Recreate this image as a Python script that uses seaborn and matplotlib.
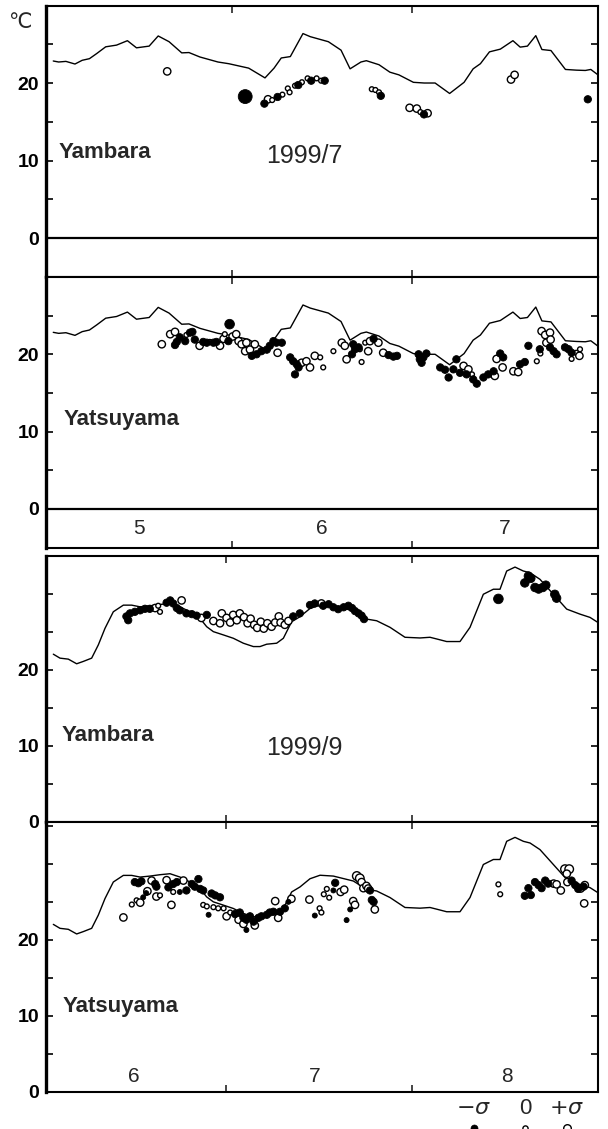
import numpy as np
import pandas as pd
import matplotlib
matplotlib.use("Agg")
import matplotlib.pyplot as plt
import seaborn as sns

sns.set_theme(style="white")
plt.rcParams['font.family'] = ['Liberation Sans', 'DejaVu Sans']

# ---------------- data ----------------
# reference curve, July 1999 set (months 5-7), x = day from May 1
jul_line_day = [1.21, 2.11, 3.32, 4.83, 6.03, 7.24, 8.45, 9.95, 11.76, 13.57, 15.08, 17.19,
                18.70, 20.51, 22.62, 23.83, 25.64, 28.66, 30.47, 33.78, 36.50, 38.01, 39.21,
                40.72, 42.83, 44.04, 47.06, 49.17, 50.68, 52.49, 53.39, 55.50, 57.31, 58.82,
                61.23, 63.04, 64.85, 67.27, 69.68, 71.19, 72.40, 73.91, 75.72, 77.82, 79.03,
                80.24, 81.63, 82.65, 84.16, 86.57, 88.38, 89.89, 90.80, 92.0]
jul_line_temp = [22.84, 22.71, 22.79, 22.45, 22.93, 23.14, 23.80, 24.67, 24.89, 25.46, 24.54,
                 24.76, 26.07, 25.33, 23.89, 23.93, 23.36, 22.71, 22.49, 21.92, 20.66, 21.92,
                 23.23, 23.41, 26.38, 25.98, 25.33, 24.24, 21.83, 22.71, 22.88, 22.36, 21.40,
                 21.05, 20.09, 20.0, 20.0, 18.65, 20.09, 21.83, 22.49, 24.02, 24.37, 25.46,
                 24.63, 24.76, 26.11, 24.32, 24.19, 21.75, 21.66, 21.62, 21.75, 21.05]

# reference curve, September 1999 set (months 6-8), x = day from June 1
sep_line_day = [1.22, 2.33, 3.72, 5.11, 6.22, 7.61, 8.72, 9.83, 11.22, 12.89, 14.28, 15.67,
                17.33, 19.0, 20.67, 22.33, 24.0, 25.67, 26.78, 27.89, 29.56, 31.22, 32.89,
                34.56, 35.67, 36.78, 38.44, 39.56, 40.94, 42.33, 44.0, 45.67, 47.89, 51.22,
                53.44, 55.11, 57.33, 59.83, 62.33, 64.0, 65.11, 66.78, 69.0, 70.67, 72.89,
                74.56, 75.67, 76.78, 78.17, 79.56, 80.67, 82.33, 84.56, 86.78, 89.0, 90.67, 92.0]
sep_line_temp = [22.04, 21.52, 21.39, 20.78, 21.09, 21.52, 23.26, 25.43, 27.61, 28.48, 28.48,
                 28.26, 28.39, 28.57, 28.70, 28.26, 27.61, 26.74, 25.65, 25.0, 24.57, 24.13,
                 23.48, 23.04, 23.04, 23.35, 23.48, 24.13, 26.30, 26.96, 28.04, 28.5, 28.39,
                 27.74, 26.65, 26.43, 25.57, 24.26, 24.17, 24.26, 24.04, 23.70, 23.70, 25.57,
                 29.91, 30.57, 30.57, 32.96, 33.48, 32.96, 32.74, 31.87, 29.91, 27.96, 27.30,
                 26.87, 26.2]

# observations: day, temperature, anomaly class (-: filled, 0: small open, +: open)
yam7_day = [20.2, 33.2, 36.4, 37.0, 37.7, 38.6, 39.4, 40.3, 40.6, 41.5, 42.05, 42.65, 43.6,
            44.2, 45.1, 45.85, 46.45, 54.3, 54.9, 55.5, 55.8, 60.6, 61.8, 62.4, 63.0, 63.6,
            77.5, 78.1, 90.3]
yam7_temp = [21.5, 18.25, 17.34, 17.9, 17.8, 18.2, 18.5, 19.3, 18.8, 19.65, 19.74, 20.1, 20.6,
             20.3, 20.6, 20.3, 20.3, 19.2, 19.1, 18.8, 18.35, 16.8, 16.7, 16.25, 15.95, 16.1,
             20.45, 21.05, 17.9]
yam7_anom = [1, -2.5, -1, 1, 0, -1, 0, 0, 0, 0, -1, 0, 0, -1, 0, 0, -1, 0, 0, 0, -1, 1, 1, 0,
             -1, 1, 1, 1, -1]

yat7_day = [19.3, 20.7, 21.5, 21.8, 21.5, 22.3, 23.2, 23.4, 24.0, 24.4, 24.8, 25.6, 26.2, 26.8,
            27.3, 27.9, 28.4, 29.0, 29.6, 29.8, 30.4, 30.6, 31.1, 31.7, 32.1, 32.6, 33.4, 33.2,
            34.0, 34.8, 34.3, 35.1, 35.9, 36.8, 37.3, 37.9, 38.4, 39.3, 38.6, 40.7, 41.2, 41.8,
            41.5, 42.1, 42.6, 43.4, 44.0, 44.8, 45.7, 46.2,
            47.9, 49.3, 49.8, 50.1, 51.0, 51.2, 51.5, 52.1, 52.3, 52.6, 53.2, 53.7, 54.0, 54.6,
            55.4, 56.2, 57.1, 57.9, 58.5, 62.1, 62.3, 62.9, 63.4, 62.6, 68.4, 65.7, 66.5, 67.1,
            67.9, 69.0, 70.1, 71.2, 71.8, 72.9, 73.7, 74.6, 69.6, 70.4, 71.0, 74.8, 76.1, 75.1,
            75.7, 76.2, 77.9, 78.7, 79.0, 79.8, 80.4, 81.8, 82.3, 82.4, 82.6, 83.2, 84.0, 83.4,
            84.1, 84.0, 84.6, 85.1, 86.5, 87.1, 87.6, 87.6, 88.4, 89.0, 88.9]
yat7_temp = [21.3, 22.6, 22.9, 21.6, 21.2, 22.2, 21.7, 22.5, 22.8, 22.9, 21.9, 21.1, 21.6, 21.5,
             21.6, 21.5, 21.6, 21.1, 22.0, 22.6, 21.7, 23.9, 22.3, 22.6, 21.7, 21.3, 21.5, 20.4,
             20.6, 21.3, 19.8, 20.0, 20.4, 20.6, 21.1, 21.7, 21.5, 21.5, 20.2, 19.6, 19.1, 18.7,
             17.4, 18.3, 18.9, 19.1, 18.3, 19.8, 19.6, 18.3,
             20.4, 21.5, 21.1, 19.35, 20.0, 21.3, 20.65, 20.9, 20.65, 19.0, 21.5, 20.4, 21.7, 22.0,
             21.5, 20.2, 19.9, 19.7, 19.8, 20.0, 19.35, 19.6, 20.1, 18.9, 19.35, 18.3, 18.0, 17.0,
             18.05, 17.6, 17.4, 16.75, 16.2, 17.0, 17.4, 17.8, 18.5, 18.05, 17.4, 17.2, 18.3, 19.4,
             20.1, 19.6, 17.8, 17.7, 18.7, 19.0, 21.1, 19.1, 20.65, 20.1, 23.0, 22.5, 22.8, 21.5,
             21.9, 20.9, 20.4, 20.0, 20.9, 20.65, 20.2, 19.4, 20.2, 20.65, 19.8]
yat7_anom = [1, 1, 1, -1, -1, -1, -1, 0, -1, -1, -1, 1, -1, -1, 0, -1, -1, 1, 1, 0, -1, -2, 1, 1,
             1, 1, 1, 1, 1, 1, -1, -1, -1, -1, -1, -1, -1, -1, 1, -1, -1, -1, -1, -1, 1, 1, 1, 1,
             0, 0,
             0, 1, 1, 1, -1, -1, -1, -1, 0, 0, 0, 1, 1, -1, 1, 1, -1, -1, -1, -1, -1, -1, -1, -1,
             -1, -1, -1, -1, -1, -1, -1, -1, -1, -1, -1, -1, 1, 1, 0, 1, 1, 1, -1, -1, 1, 1, -1,
             -1, -1, 0, -1, 0, 1, 1, 1, 1, 1, -1, -1, -1, -1, -1, -1, 0, 0, 0, 1]

yam9_day = [13.4, 13.7, 14.0, 14.8, 15.7, 16.5, 17.3, 18.2, 18.7, 19.0, 20.1, 20.7, 21.2, 22.6,
            21.8, 22.3, 23.4, 24.3, 25.1, 25.9, 26.8, 27.9, 29.0, 29.3, 30.1, 30.7, 31.2, 31.8,
            32.3, 33.0, 33.6, 34.1, 34.7, 35.2, 35.8, 36.3, 36.9, 37.6, 38.2, 38.8, 39.1, 39.8,
            40.4, 41.2, 42.3, 44.0, 44.8, 45.9,
            46.2, 47.1, 47.9, 48.7, 49.6, 50.4, 51.0, 51.5, 52.1, 52.6, 53.0,
            75.4, 79.8, 80.4, 80.8, 81.5, 82.1, 82.8, 83.3, 84.8, 85.1]
yam9_temp = [27.0, 26.5, 27.4, 27.6, 27.8, 28.0, 28.0, 28.1, 28.4, 27.6, 28.8, 29.1, 28.7, 29.1,
             28.1, 27.8, 27.4, 27.3, 27.1, 26.8, 27.2, 26.4, 26.1, 27.4, 26.8, 26.2, 27.2, 26.5,
             27.4, 26.9, 26.1, 26.7, 25.9, 25.5, 26.3, 25.4, 26.1, 25.65, 26.2, 27.0, 26.2, 25.9,
             26.4, 27.0, 27.4, 28.5, 28.7, 28.7,
             28.4, 28.6, 28.2, 27.95, 28.2, 28.4, 28.1, 27.7, 27.4, 27.1, 26.65,
             29.3, 31.4, 32.3, 32.0, 30.8, 30.6, 30.8, 31.1, 29.9, 29.4]
yam9_anom = [-1, -1, -1, -1, -1, -1, -1, 1, 0, 0, -1, -1, -1, 1, -1, -1, -1, -1, -1, 1, -1, 1,
             1, 1, 1, 1, 1, 1, 1, 1, 1, 1, 1, 1, 1, 1, 1, 1, 1, 1, 1, 1, 1, -1, -1, -1, -1, 1,
             -1, -1, -1, -1, -1, -1, -1, -1, -1, -1, -1,
             -2, -1.5, -1.5, -1.5, -1.5, -1.5, -1.5, -1.5, -1.5, -1.5]

yat9_day = [12.9, 14.3, 15.1, 15.7, 14.8, 15.4, 15.9, 16.2, 16.7, 16.9, 17.6, 18.2, 18.4, 18.4,
            19.0, 20.1, 20.9, 20.4, 21.2, 21.8, 21.2, 22.9, 22.3, 23.4, 24.3, 24.8, 25.4, 25.7,
            26.2, 27.6, 28.2, 29.0, 26.2, 26.8, 27.1, 27.9, 28.7, 29.6, 30.1, 30.7, 31.5, 32.3,
            32.9, 33.4, 34.0, 34.6, 32.1, 32.9, 34.8, 33.4, 35.4, 35.9, 36.8, 37.3, 37.9, 39.0,
            39.8, 38.2, 38.7, 40.4, 40.9, 43.9, 44.8, 45.6, 45.9, 46.3, 46.8,
            47.2, 48.2, 47.9, 49.1, 49.7, 51.8, 52.3, 52.6, 52.9, 53.4, 53.7, 54.0, 54.3, 54.6,
            54.8, 51.2, 51.5, 50.7, 50.1, 75.4, 75.7, 79.8, 80.8, 80.4, 81.5, 82.1, 82.6, 83.2,
            83.7, 84.6, 85.1, 85.8, 86.5, 87.2, 86.8, 86.9, 87.6, 88.2, 88.7, 89.6, 89.1, 89.8,
            89.7]
yat9_temp = [22.95, 24.65, 25.2, 24.9, 27.6, 27.45, 27.7, 25.6, 26.15, 26.4, 27.8, 27.35, 27.0,
             25.7, 25.85, 27.85, 24.6, 26.9, 27.35, 27.6, 26.3, 27.8, 26.3, 26.5, 27.35, 27.0,
             28.0, 26.7, 26.5, 26.1, 25.85, 25.6, 24.6, 24.4, 23.3, 24.3, 24.15, 24.15, 23.1,
             23.6, 23.4, 23.6, 22.9, 22.65, 23.1, 22.4, 22.65, 22.1, 21.9, 21.3, 22.9, 23.1,
             23.3, 23.6, 23.7, 23.7, 24.15, 25.1, 22.9, 25.0, 25.4, 25.3, 23.2, 24.15, 23.6,
             26.0, 26.7,
             25.55, 27.5, 26.5, 26.3, 26.6, 28.4, 28.1, 27.6, 26.8, 27.1, 26.75, 26.5, 25.25,
             25.0, 24.0, 25.1, 24.6, 24.0, 22.6, 27.3, 26.0, 25.8, 25.9, 26.8, 27.6, 27.2, 26.8,
             27.8, 27.4, 27.4, 27.3, 26.5, 29.3, 29.3, 28.7, 27.6, 27.8, 27.2, 26.7, 27.0,
             26.75, 27.2, 24.8]
yat9_anom = [1, 0, 0, 1, -1, -1, -1, -0.5, -0.5, 1, 1, -1, -1, 1, 0, 1, 1, -1, -1, -1, 0, 1,
             -0.5, -1, -1, -1, -1, -1, -1, -1, -1, -1, 0, 0, -0.5, 0, 0, 0, 1, 0, -1, -1, -1, -1,
             -1, -1, 1, 1, 1, -0.5, -1, -1, -1, -1, -1, -1, -1, 1, 1, -0.5, 1, 1, -0.5, 0, 0,
             0, 0,
             0, -1, -0.5, 1, 1, 1.5, 1.5, 1, 1, 1, 1, -1, -1, -1, 1, 1, 1, -0.5, -0.5, 0, 0,
             -1, -1, -1, -1, -1, -1, -1, -1, 1, 1, 1, 1.5, 1.5, 1, 1, -1, -1, -1, -1, 1, 1, 1]

jul_month_labels = ["5", "6", "7"]
jul_month_bounds = [31, 61]
sep_month_labels = ["6", "7", "8"]
sep_month_bounds = [30, 61]
legend_labels = [r"$-\sigma$", "0", r"$+\sigma$"]
legend_anom = [-1, 0, 1]

# ---------------- drawing ----------------
W, H = 608, 1129
fig = plt.figure(figsize=(W / 100, H / 100), dpi=100)
fig.patch.set_facecolor("white")

L = 46 / W
AW = 552 / W


def box(top_px, bot_px):
    return [L, 1 - bot_px / H, AW, (bot_px - top_px) / H]


ax1 = fig.add_axes(box(5.5, 276.8))
ax2 = fig.add_axes(box(277, 547.5))
ax3 = fig.add_axes(box(555.5, 822))
ax4 = fig.add_axes(box(822, 1092))


def size_of(a):
    a = abs(a)
    return {0: 12, 0.5: 13, 1: 28, 1.5: 38, 2: 48, 2.5: 100}[a]


def draw_points(ax, day, temp, anom):
    df = pd.DataFrame({"day": day, "temp": temp, "anom": anom})
    df["sz"] = df["anom"].map(size_of)
    pos = df[df["anom"] >= 0]
    neg = df[df["anom"] < 0]
    smap_p = {v: v for v in pos["sz"].unique()}
    smap_n = {v: v for v in neg["sz"].unique()}
    sns.scatterplot(data=pos, x="day", y="temp", size="sz", sizes=smap_p, color="white",
                    edgecolor="black", linewidth=1.0, legend=False, ax=ax, zorder=3)
    sns.scatterplot(data=neg, x="day", y="temp", size="sz", sizes=smap_n, color="black",
                    edgecolor="black", linewidth=0.6, legend=False, ax=ax, zorder=4)


def style_axes(ax, ylim, bounds):
    ax.set_xlim(0, 92)
    ax.set_ylim(*ylim)
    ax.set_facecolor("white")
    for s in ax.spines.values():
        s.set_visible(True)
        s.set_color("black")
        s.set_linewidth(1.5)
    ax.spines["left"].set_linewidth(2.4)
    ax.set_yticks([0, 10, 20])
    ax.set_yticks([v for v in range(5, int(ylim[1]) + 1, 5) if v % 10 != 0 or v > 20],
                  minor=True)
    ax.set_xticks(bounds)
    ax.set_xticklabels([])
    ax.tick_params(axis="y", which="both", direction="in", left=True, right=True,
                   length=5, width=1.2, labelsize=14, pad=5, colors="black")
    ax.tick_params(axis="x", which="both", direction="in", top=True, bottom=True,
                   length=5, width=1.2, labelbottom=False)
    for lab in ax.get_yticklabels():
        lab.set_fontweight("bold")
    ax.set_xlabel("")
    ax.set_ylabel("")


panels = [
    (ax1, jul_line_day, jul_line_temp, yam7_day, yam7_temp, yam7_anom, (-5, 30), jul_month_bounds),
    (ax2, jul_line_day, jul_line_temp, yat7_day, yat7_temp, yat7_anom, (-5, 30), jul_month_bounds),
    (ax3, sep_line_day, sep_line_temp, yam9_day, yam9_temp, yam9_anom, (0, 35), sep_month_bounds),
    (ax4, sep_line_day, sep_line_temp, yat9_day, yat9_temp, yat9_anom, (0, 35.5), sep_month_bounds),
]
for ax, ld, lt, pd_, pt, pa, ylim, bounds in panels:
    sns.lineplot(x=ld, y=lt, ax=ax, color="black", linewidth=1.0, estimator=None, sort=False)
    draw_points(ax, pd_, pt, pa)
    style_axes(ax, ylim, bounds)

for ax in (ax1, ax2):
    ax.axhline(0, color="black", linewidth=1.6)

# station / date labels
ax1.text(2.1, 11.0, "Yambara", fontsize=16, fontweight="bold", ha="left", va="center")
ax1.text(43.0, 10.6, "1999/7", fontsize=18, ha="center", va="center")
ax2.text(3.0, 11.6, "Yatsuyama", fontsize=16, fontweight="bold", ha="left", va="center")
ax3.text(2.6, 11.3, "Yambara", fontsize=16, fontweight="bold", ha="left", va="center")
ax3.text(43.1, 9.7, "1999/9", fontsize=18, ha="center", va="center")
ax4.text(2.75, 11.3, "Yatsuyama", fontsize=16, fontweight="bold", ha="left", va="center")

# month labels
for lab, xm in zip(jul_month_labels, [15.5, 46, 76.5]):
    ax2.text(xm, -2.5, lab, fontsize=15, ha="center", va="center")
for lab, xm in zip(sep_month_labels, [14.7, 44.7, 76.8]):
    ax4.text(xm, 2.0, lab, fontsize=15, ha="center", va="center")

# unit label
fig.text(20 / W, 1 - 22 / H, "\u2103", fontsize=15, ha="center", va="center")

# legend
lax = fig.add_axes([0, 0, 1, 36 / H])
lax.set_xlim(0, W)
lax.set_ylim(0, 36)
lax.axis("off")
leg_x = [474, 525, 567]
for lab, xx in zip(legend_labels, leg_x):
    lax.text(xx, 21, lab, fontsize=16, ha="center", va="center")
leg_df = pd.DataFrame({"x": leg_x, "y": [1, 1, 1], "anom": legend_anom})
sns.scatterplot(data=leg_df[leg_df.anom < 0], x="x", y="y", s=26, color="black",
                edgecolor="black", legend=False, ax=lax)
sns.scatterplot(data=leg_df[leg_df.anom == 0], x="x", y="y", s=14, color="white",
                edgecolor="black", linewidth=1.0, legend=False, ax=lax)
sns.scatterplot(data=leg_df[leg_df.anom > 0], x="x", y="y", s=30, color="white",
                edgecolor="black", linewidth=1.0, legend=False, ax=lax)
lax.set_xlabel("")
lax.set_ylabel("")

fig.savefig("out.png", dpi=100, facecolor="white")
